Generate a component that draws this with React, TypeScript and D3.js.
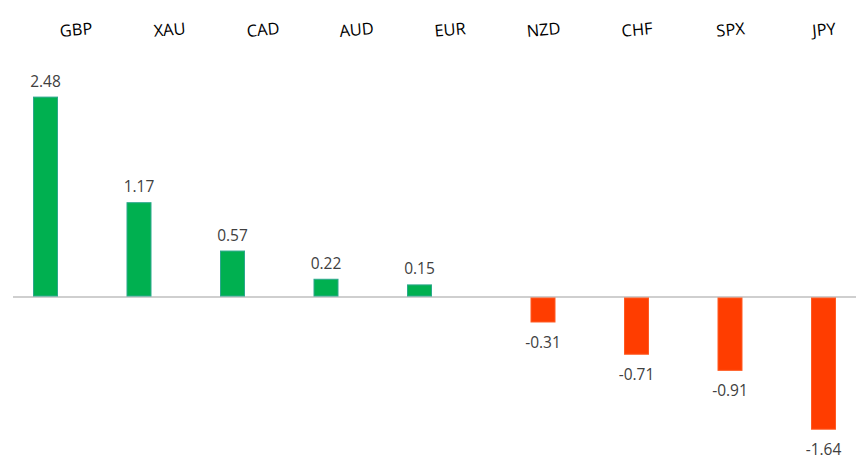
import React from "react";
import * as d3 from "d3";

const categories = ["GBP", "XAU", "CAD", "AUD", "EUR", "NZD", "CHF", "SPX", "JPY"];
const values = [2.48, 1.17, 0.57, 0.22, 0.15, -0.31, -0.71, -0.91, -1.64];

const W = 867;
const H = 466;

export default function App() {
  const x = d3.scaleBand<string>().domain(categories).range([28.75, 870.25]).paddingInner(0).paddingOuter(0);
  const zeroY = 297;
  const k = 80.6;
  const y = d3.scaleLinear().domain([-2, 3]).range([zeroY + 2 * k, zeroY - 3 * k]);
  const barW = 24;
  const posOffset = -30;
  const fmt = (v: number) => v.toFixed(2);

  return (
    <svg
      width={W}
      height={H}
      style={{ position: "absolute", left: 0, top: 0, background: "#fff" }}
      fontFamily="'Open Sans', 'Noto Sans', sans-serif"
    >
      <rect x={0} y={0} width={W} height={H} fill="#fff" />
      {categories.map((c) => {
        const cx = (x(c) as number) + x.bandwidth() / 2;
        return (
          <text
            key={"cat" + c}
            transform={`translate(${cx + 0.5},${29}) rotate(-5)`}
            textAnchor="middle"
            dominantBaseline="central"
            fontSize={16.5}
            fill="#000"
          >
            {c}
          </text>
        );
      })}
      <line x1={13} x2={856} y1={y(0)} y2={y(0)} stroke="#BFBFBF" strokeWidth={1.6} />
      {values.map((v, i) => {
        const c = categories[i];
        const pos = v >= 0;
        const center = (x(c) as number) + x.bandwidth() / 2 + (pos ? posOffset : 0);
        const top = pos ? y(v) : y(0) + 1;
        const bottom = pos ? y(0) - 1 : y(v);
        return (
          <g key={"bar" + c}>
            <rect
              x={center - barW / 2}
              y={top}
              width={barW}
              height={bottom - top}
              fill={pos ? "#00B050" : "#FF3D00"}
              stroke={pos ? "#2CA88C" : "#FF5A22"}
              strokeWidth={1}
            />
            <text
              x={center}
              y={pos ? y(v) - 10.5 : y(v) + 12.5}
              textAnchor="middle"
              dominantBaseline={pos ? "auto" : "hanging"}
              fontSize={15.5}
              fill="#404040"
            >
              {fmt(v)}
            </text>
          </g>
        );
      })}
    </svg>
  );
}
